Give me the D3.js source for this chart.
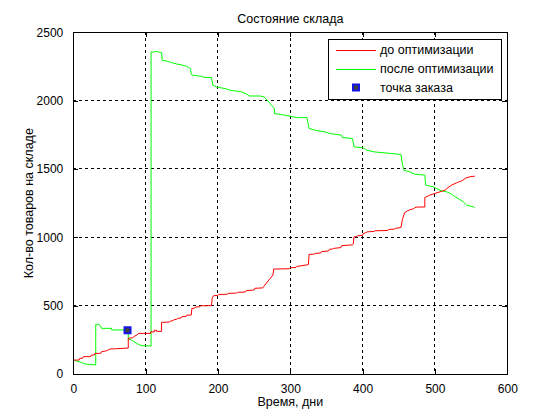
<!DOCTYPE html>
<html>
<head>
<meta charset="utf-8">
<script src="https://cdn.jsdelivr.net/npm/d3@7"></script>
<style>
  html, body { margin: 0; padding: 0; background: #ffffff; }
  svg { display: block; }
  text { font-family: "Liberation Sans", Arial, sans-serif; font-size: 12px; fill: #000; }
</style>
</head>
<body>
<svg id="chart" width="560" height="420"></svg>
<script>
// ---- data ----
const titleText = "Состояние склада";
const xLabelText = "Время, дни";
const yLabelText = "Кол-во товаров на складе";
const seriesNames = ["до оптимизации", "после оптимизации", "точка заказа"];
const xTicks = [0, 100, 200, 300, 400, 500, 600];
const yTicks = [0, 500, 1000, 1500, 2000, 2500];

// before optimisation (day, stock)
const beforeDays = [0,8,9,13,14,24,25,29,30,38,39,46,51,60,76,76,82,84,88,90,107,107,112,112,115,115,122,122,133,134,138,139,143,144,149,150,156,157,163,164,168,169,175,176,191,192,194,200,201,213,214,226,227,238,239,250,251,262,263,276,277,299,300,308,309,325,326,333,334,342,343,353,354,359,360,370,371,386,387,388,392,393,400,401,405,406,416,417,435,436,444,445,453,455,458,462,465,470,474,486,486,493,500,507,514,518,523,531,537,543,550,555];
const beforeVals = [102,102,115,115,127,127,139,139,151,151,163,170,183,185,190,262,265,275,285,297,297,308,308,320,320,312,312,378,380,387,390,397,400,407,410,419,422,431,431,480,482,490,492,499,500,555,573,575,582,583,590,592,597,600,610,615,627,630,639,724,768,770,777,780,787,800,875,877,882,885,895,900,912,915,919,925,939,945,950,1002,1008,1011,1015,1028,1035,1040,1043,1048,1050,1058,1060,1065,1072,1131,1180,1194,1201,1209,1221,1222,1291,1309,1321,1333,1345,1364,1382,1401,1413,1435,1445,1447];

// after optimisation (day, stock)
const afterDays = [0,4,11,16,31,31,34,37,39,53,53,76,76,80,83,87,91,95,107.5,107.5,112,114,118,122,123,130,136,143,150,157,162,163,165,177,182,191,193,198,210,217,233,240,243,258,264,272,278,278,288,300,309,323,326,334,348,355,371,372,386,388,401,406,416,440,453,455,457,465,472,486,487,493,498,502,509,516,523,528,532,539,544,553,555];
const afterVals = [102,95,85,73,66,363,365,355,334,334,322,322,255,250,240,226,214,207,205,2356,2356,2360,2356,2351,2295,2288,2278,2268,2261,2251,2234,2193,2186,2178,2169,2169,2113,2100,2088,2076,2064,2047,2034,2034,2027,1979,1942,1905,1898,1886,1876,1876,1796,1784,1771,1759,1747,1730,1723,1662,1655,1637,1625,1613,1606,1535,1491,1479,1462,1455,1382,1375,1369,1357,1340,1333,1316,1296,1284,1260,1235,1223,1216];

// reorder point
const orderDays = [75];
const orderVals = [320];

// ---- drawing ----
(function () {
const svg = d3.select("#chart");
const pLeft = 73.3, pRight = 507.3, pTop = 32.3, pBottom = 374;

const x = d3.scaleLinear().domain([0, 600]).range([pLeft, pRight]);
const y = d3.scaleLinear().domain([0, 2500]).range([pBottom, pTop]);

svg.append("rect").attr("x", pLeft).attr("y", pTop)
  .attr("width", pRight - pLeft).attr("height", pBottom - pTop)
  .attr("fill", "#fff");

// grid
const grid = svg.append("g").attr("stroke", "#000").attr("stroke-width", 1)
  .attr("stroke-dasharray", "3,3").attr("shape-rendering", "crispEdges");
grid.selectAll("line.vx").data(xTicks.filter(d => d > 0 && d < 600)).enter()
  .append("line").attr("x1", d => x(d)).attr("x2", d => x(d))
  .attr("y1", pTop).attr("y2", pBottom);
grid.selectAll("line.hy").data(yTicks.filter(d => d > 0 && d < 2500)).enter()
  .append("line").attr("y1", d => y(d)).attr("y2", d => y(d))
  .attr("x1", pLeft).attr("x2", pRight);

// series
const line = d3.line().x(d => x(d[0])).y(d => y(d[1]));
const before = beforeDays.map((d, i) => [d, beforeVals[i]]);
const after = afterDays.map((d, i) => [d, afterVals[i]]);

const plot = svg.append("g");
plot.append("path").datum(after).attr("d", line)
  .attr("fill", "none").attr("stroke", "#00ff00").attr("stroke-width", 1);
plot.append("path").datum(before).attr("d", line)
  .attr("fill", "none").attr("stroke", "#ff0000").attr("stroke-width", 1);

const orders = orderDays.map((d, i) => [d, orderVals[i]]);
plot.selectAll("rect.mk").data(orders).enter().append("rect")
  .attr("x", d => x(d[0]) - 3).attr("y", d => y(d[1]) - 3)
  .attr("width", 6).attr("height", 6)
  .attr("fill", "#404040").attr("stroke", "#1414e6").attr("stroke-width", 2);

// axes
function styleAxis(g) {
  g.select(".domain").remove();
  g.selectAll(".tick line").attr("stroke", "#000").attr("shape-rendering", "crispEdges");
  g.selectAll(".tick text").style("font-family", "'Liberation Sans', Arial, sans-serif")
    .style("font-size", "12px").attr("fill", "#000");
}
svg.append("g").attr("transform", `translate(0,${pBottom})`)
  .call(d3.axisBottom(x).tickValues(xTicks).tickSize(-5).tickPadding(10).tickFormat(d3.format("d")))
  .call(styleAxis);
svg.append("g").attr("transform", `translate(0,${pTop})`)
  .call(d3.axisTop(x).tickValues(xTicks).tickSize(-5).tickFormat(""))
  .call(styleAxis);
svg.append("g").attr("transform", `translate(${pLeft},0)`)
  .call(d3.axisLeft(y).tickValues(yTicks).tickSize(-5).tickPadding(10).tickFormat(d3.format("d")))
  .call(styleAxis);
svg.append("g").attr("transform", `translate(${pRight},0)`)
  .call(d3.axisRight(y).tickValues(yTicks).tickSize(-5).tickFormat(""))
  .call(styleAxis);

// frame
svg.append("rect").attr("x", pLeft).attr("y", pTop)
  .attr("width", pRight - pLeft).attr("height", pBottom - pTop)
  .attr("fill", "none").attr("stroke", "#000").attr("stroke-width", 1)
  .attr("shape-rendering", "crispEdges");

// labels
svg.append("text").attr("x", (pLeft + pRight) / 2).attr("y", 22.5)
  .attr("text-anchor", "middle").style("font-size", "12.5px").text(titleText);
svg.append("text").attr("x", (pLeft + pRight) / 2).attr("y", 406)
  .attr("text-anchor", "middle").style("font-size", "12.5px").text(xLabelText);
svg.append("text")
  .attr("transform", `translate(33,${(pTop + pBottom) / 2}) rotate(-90)`)
  .attr("text-anchor", "middle").style("font-size", "12.5px").text(yLabelText);

// legend
const lg = svg.append("g");
lg.append("rect").attr("x", 328.5).attr("y", 39.5).attr("width", 173).attr("height", 60)
  .attr("fill", "#fff").attr("stroke", "#000").attr("stroke-width", 1)
  .attr("shape-rendering", "crispEdges");
const legendColors = ["#ff0000", "#00ff00", null];
const rowY = [50, 69, 87.5];
seriesNames.forEach((name, i) => {
  if (legendColors[i]) {
    lg.append("line").attr("x1", 336).attr("x2", 376)
      .attr("y1", rowY[i]).attr("y2", rowY[i])
      .attr("stroke", legendColors[i]).attr("stroke-width", 1)
      .attr("shape-rendering", "crispEdges");
  } else {
    lg.append("rect").attr("x", 353).attr("y", rowY[i] - 3)
      .attr("width", 6).attr("height", 6)
      .attr("fill", "#404040").attr("stroke", "#1414e6").attr("stroke-width", 2);
  }
  lg.append("text").attr("x", 380).attr("y", rowY[i]).attr("dy", "0.35em")
    .style("font-size", "12.5px").text(name);
});
})();
</script>
</body>
</html>
